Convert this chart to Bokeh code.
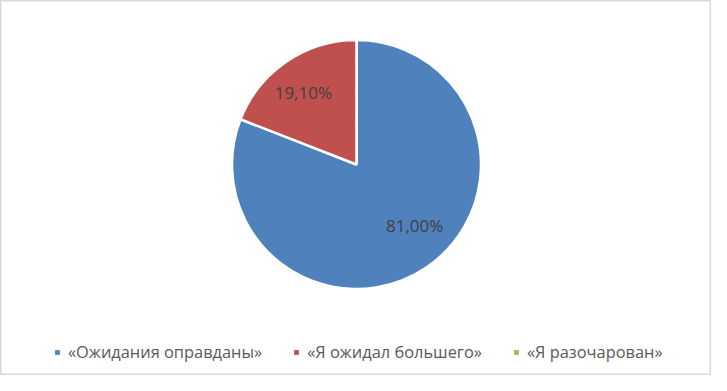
import numpy as np
from bokeh.plotting import figure
from bokeh.models import Range1d, Legend, LegendItem, ColumnDataSource
from bokeh.core.properties import value
from bokeh.embed import file_html
from bokeh.resources import INLINE

categories = ["«Ожидания оправданы»", "«Я ожидал большего»", "«Я разочарован»"]
values = [81.00, 19.10, 0.0]
labels = ["81,00%", "19,10%", ""]
colors = ["#4F81BD", "#C0504D", "#9BBB59"]

# label nudges in screen pixels (layout only)
label_dx = [9, -4, 0]
label_dy = [-11, 0, 0]

W, H = 711, 375
cx, cy, R = 356, H - 164, 124.5

p = figure(width=W, height=H, output_backend="svg", toolbar_location=None,
           x_range=Range1d(0, W), y_range=Range1d(0, H), min_border=0)
p.axis.visible = False
p.grid.visible = False
p.outline_line_color = "#D9D9D9"
p.outline_line_width = 2
p.background_fill_color = "white"

vals = np.array(values)
frac = vals / vals.sum()
ang = frac * 2 * np.pi
# clockwise from 12 o'clock
ends = np.pi / 2 - np.concatenate([[0], np.cumsum(ang)[:-1]])
starts = ends - ang
mids = (starts + ends) / 2

items = []
nan = np.array([np.nan])
for i, cat in enumerate(categories):
    if vals[i] > 0:
        src = ColumnDataSource(dict(x=[cx], y=[cy], s=[starts[i]], e=[ends[i]]))
        p.wedge(x="x", y="y", radius=R, start_angle="s", end_angle="e", source=src,
                fill_color=colors[i], line_color="white", line_width=2.5)
    # legend swatch renderer (draws nothing in the plot)
    sw = p.quad(left=nan, right=nan, top=nan, bottom=nan, fill_color=colors[i], line_color=None)
    items.append(LegendItem(label=cat, renderers=[sw]))

lr = 0.7 * R
lab_src = ColumnDataSource(dict(x=cx + lr * np.cos(mids), y=cy + lr * np.sin(mids), t=labels,
                                dx=label_dx, dy=label_dy))
p.text(x="x", y="y", text="t", source=lab_src, x_offset="dx", y_offset="dy",
       text_align="center", text_baseline="middle",
       text_font=value("Open Sans"), text_font_size="17px", text_color="#404040")

legend = Legend(items=items, orientation="horizontal", location=(54, 12),
                glyph_width=6, glyph_height=6, label_standoff=8, spacing=31,
                padding=0, margin=0, border_line_color=None, background_fill_alpha=0,
                label_text_font="Open Sans", label_text_font_size="16.4px",
                label_text_color="#595959", label_height=6)
p.add_layout(legend, "center")

open("out.html", "w").write(file_html(p, INLINE))
